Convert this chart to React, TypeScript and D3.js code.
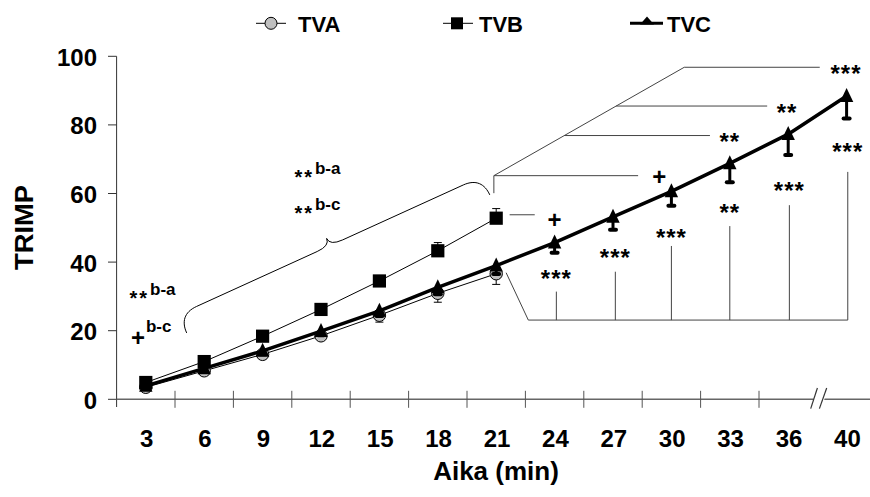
import React from "react";
import * as d3 from "d3";

// ---------- data ----------
const categories = ["3", "6", "9", "12", "15", "18", "21", "24", "27", "30", "33", "36", "40"];
const yTicks = [0, 20, 40, 60, 80, 100];

const tvaValues = [3.5, 8.3, 13.1, 18.5, 24.5, 30.9, 36.6];
const tvaErr = [0.5, 0.8, 1.0, 1.2, 2.0, 2.6, 3.1];
const tvbValues = [4.9, 11.0, 18.4, 26.2, 34.5, 43.3, 52.8];
const tvbErr = [0.5, 0.8, 1.0, 1.2, 1.6, 2.4, 2.8];
const tvcValues = [3.9, 9.0, 14.1, 19.9, 25.8, 32.6, 39.0, 45.7, 53.2, 60.6, 68.8, 77.3, 88.4];
const tvcErr = [0.5, 0.8, 1.0, 1.2, 1.5, 2.0, 2.5, 3.0, 3.8, 4.2, 5.5, 6.1, 6.5];

const legendItems = ["TVA", "TVB", "TVC"];

// significance marks below TVC (B vs C bracket bottom): [category index, label value, line top value, label]
const bottomMarks: [number, number, number, string][] = [
  [7.03, 36.9, 31.4, "***"],
  [8.04, 42.8, 37.2, "***"],
  [9.0, 48.7, 44.7, "***"],
  [10.0, 56.0, 50.5, "**"],
  [11.02, 62.6, 56.6, "***"],
  [12.02, 73.9, 66.3, "***"],
];
// upper bracket branches: [branch value, branch end index, label index, label value, label]
const upperBranches: [number, number, number, number, string][] = [
  [96.8, 11.54, 11.99, 96.7, "***"],
  [85.5, 10.64, 10.98, 85.1, "**"],
  [76.9, 9.66, 10.0, 76.8, "**"],
];

const W = 870;
const H = 497;
const FONT = "'Liberation Sans', Arial, Helvetica, sans-serif";

export default function App() {
  React.useEffect(() => {
    document.body.style.margin = "0";
  }, []);

  const xBand = d3.scaleBand<string>().domain(categories).range([116.6, 116.6 + 13 * 58.4]).padding(0);
  const step = xBand.step();
  const x0 = xBand.range()[0];
  const X = (i: number) => x0 + (i + 0.5) * step;
  const xc = (c: string) => (xBand(c) as number) + step / 2;
  const y = d3.scaleLinear().domain([0, 100]).range([399.3, 56.3]);

  const lineGen = d3
    .line<number>()
    .x((_, i) => xc(categories[i]))
    .y((v) => y(v));

  const triPath = (cx: number, cy: number, w = 13.4, h = 14) =>
    `M${cx},${cy - h * 0.58}L${cx + w / 2},${cy + h * 0.42}L${cx - w / 2},${cy + h * 0.42}Z`;

  // brace
  const bs: [number, number] = [X(0.7), y(19.35)];
  const be: [number, number] = [X(5.89), y(59.6)];
  const dx = be[0] - bs[0];
  const dy = be[1] - bs[1];
  const L = Math.hypot(dx, dy);
  const du = [dx / L, dy / L];
  const nv = [du[1], -du[0]];
  const T = (u: number, w: number) => `${bs[0] + u * du[0] + w * nv[0]},${bs[1] + u * du[1] + w * nv[1]}`;
  const hb = 28;
  const arm = 20;
  const bracePath =
    `M${T(0, 0)} C${T(0, 12)} ${T(6, arm)} ${T(20, arm)} L${T(L / 2 - 14, arm)} ` +
    `Q${T(L / 2, arm)} ${T(L / 2, hb)} Q${T(L / 2, arm)} ${T(L / 2 + 14, arm)} ` +
    `L${T(L - 20, arm)} C${T(L - 6, arm)} ${T(L, 12)} ${T(L, 0)}`;

  // upper bracket diagonal
  const dStart = { i: 5.96, v: 65.2 };
  const dEnd = { i: 9.22, v: 96.8 };
  const diagX = (v: number) => {
    const t = (y(v) - y(dStart.v)) / (y(dEnd.v) - y(dStart.v));
    return X(dStart.i) + t * (X(dEnd.i) - X(dStart.i));
  };

  const lineCol = "#444";
  const starText = (cx: number, cyv: number, label: string, key: string) => (
    <text
      key={key}
      x={cx}
      y={y(cyv) + 14}
      textAnchor="middle"
      fontFamily={FONT}
      fontWeight="bold"
      fontSize={24}
      letterSpacing={1}
      fill="#000"
    >
      {label}
    </text>
  );
  const plusText = (cx: number, cy: number, key: string) => (
    <text key={key} x={cx} y={cy + 8.5} textAnchor="middle" fontFamily={FONT} fontWeight="bold" fontSize={24}>
      +
    </text>
  );
  const supLabel = (xs: number, base: number, stars: string, label: string, key: string) => (
    <g key={key}>
      {stars === "**" ? (
        <text x={xs - 1} y={base + 10} textAnchor="end" fontFamily={FONT} fontWeight="bold" fontSize={20} letterSpacing={2}>
          **
        </text>
      ) : null}
      <text x={xs} y={base} fontFamily={FONT} fontWeight="bold" fontSize={17}>
        {label}
      </text>
    </g>
  );

  const yBase = y(0);
  const breakX = x0 + 12 * step;

  return (
    <svg width={W} height={H} style={{ position: "absolute", left: 0, top: 0, background: "#fff" }}>
      <rect x={0} y={0} width={W} height={H} fill="#fff" />

      {/* legend */}
      <g fontFamily={FONT} fontWeight="bold" fontSize={22}>
        <line x1={256} x2={286} y1={23.3} y2={23.3} stroke="#000" strokeWidth={1} />
        <circle cx={271} cy={23.3} r={6} fill="#c0c0c0" stroke="#000" strokeWidth={1} />
        <text x={298} y={31.7}>{legendItems[0]}</text>
        <line x1={443} x2={473} y1={23.3} y2={23.3} stroke="#000" strokeWidth={1} />
        <rect x={451} y={17.3} width={12} height={12} fill="#000" />
        <text x={479} y={31.7}>{legendItems[1]}</text>
        <line x1={630} x2={663} y1={23.3} y2={23.3} stroke="#000" strokeWidth={3} />
        <path d={`M647,16.5L654,24.5L640,24.5Z`} fill="#000" />
        <text x={667} y={31.7}>{legendItems[2]}</text>
      </g>

      {/* axes */}
      <line x1={x0} x2={x0} y1={y(100)} y2={407} stroke="#333" strokeWidth={1} />
      {yTicks.map((t) => (
        <g key={"yt" + t}>
          <line x1={108} x2={x0} y1={y(t)} y2={y(t)} stroke="#333" strokeWidth={1} />
          <text x={97} y={y(t) + 9.5} textAnchor="end" fontFamily={FONT} fontWeight="bold" fontSize={24}>
            {t}
          </text>
        </g>
      ))}
      <line x1={x0} x2={W} y1={yBase} y2={yBase} stroke="#666" strokeWidth={1.5} />
      {d3.range(1, 12).map((k) => (
        <line key={"xt" + k} x1={x0 + k * step} x2={x0 + k * step} y1={yBase - 8.5} y2={yBase + 8.5} stroke="#555" strokeWidth={1} />
      ))}
      {/* axis break */}
      <path
        d={`M${breakX - 6.7},${yBase + 9.3}L${breakX},${yBase - 11.3}L${breakX + 2},${yBase - 11.3}L${breakX - 4.7},${yBase + 9.3}Z`}
        fill="none"
      />
      <polygon
        points={`${breakX - 5},${yBase + 4} ${breakX + 6},${yBase + 4} ${breakX + 8},${yBase - 4} ${breakX - 3},${yBase - 4}`}
        fill="#fff"
      />
      <line x1={breakX - 6.7} y1={yBase + 9.3} x2={breakX} y2={yBase - 11.3} stroke="#333" strokeWidth={1.2} />
      <line x1={breakX + 2} y1={yBase + 9.3} x2={breakX + 9.3} y2={yBase - 11.3} stroke="#333" strokeWidth={1.2} />

      {categories.map((c) => (
        <text key={"xl" + c} x={xc(c) + 0.8} y={446.7} textAnchor="middle" fontFamily={FONT} fontWeight="bold" fontSize={24}>
          {c}
        </text>
      ))}
      <text x={496} y={480} textAnchor="middle" fontFamily={FONT} fontWeight="bold" fontSize={26}>
        Aika (min)
      </text>
      <text
        transform={`translate(33.3,227.5) rotate(-90)`}
        textAnchor="middle"
        fontFamily={FONT}
        fontWeight="bold"
        fontSize={25}
        textLength={85}
        lengthAdjust="spacingAndGlyphs"
      >
        TRIMP
      </text>

      {/* annotation lines */}
      <g stroke={lineCol} strokeWidth={1} fill="none">
        <path d={bracePath} stroke="#000" />
        <line x1={X(dStart.i)} x2={X(dStart.i)} y1={y(60.1)} y2={y(dStart.v)} />
        <line x1={X(dStart.i)} x2={X(8.43)} y1={y(dStart.v)} y2={y(dStart.v)} />
        <line x1={X(dStart.i)} y1={y(dStart.v)} x2={X(dEnd.i)} y2={y(dEnd.v)} />
        {upperBranches.map(([v, endI], k) => (
          <line key={"ub" + k} x1={diagX(v)} x2={X(endI)} y1={y(v)} y2={y(v)} />
        ))}
        <line x1={X(6.23)} x2={X(6.66)} y1={y(53.8)} y2={y(53.8)} />
        <line x1={X(6.17)} y1={y(36.9)} x2={X(6.55)} y2={y(23.1)} />
        <line x1={X(6.55)} x2={X(12.02)} y1={y(23.1)} y2={y(23.1)} />
        {bottomMarks.map(([i, , top], k) => (
          <line key={"bm" + k} x1={X(i)} x2={X(i)} y1={y(23.1)} y2={y(top)} />
        ))}
      </g>

      {/* annotation texts */}
      {upperBranches.map(([, , li, lv, lab], k) => starText(X(li), lv, lab, "us" + k))}
      {bottomMarks.map(([i, lv, , lab], k) => starText(X(i), lv, lab, "bs" + k))}
      {plusText(X(8.79), y(64.9), "p1")}
      {plusText(X(7.0), y(52.5), "p2")}
      {plusText(X(-0.134), y(18.0), "p3")}
      {supLabel(X(0.072), y(30.4), "**", "b-a", "s1")}
      {supLabel(X(0.003), y(19.7), "", "b-c", "s2")}
      {supLabel(X(2.897), y(65.8), "**", "b-a", "s3")}
      {supLabel(X(2.897), y(55.2), "**", "b-c", "s4")}

      {/* TVA */}
      <path d={lineGen(tvaValues) || ""} fill="none" stroke="#000" strokeWidth={1} />
      {tvaValues.map((v, i) => {
        const cx = xc(categories[i]);
        return (
          <g key={"a" + i}>
            <line x1={cx} x2={cx} y1={y(v)} y2={y(v - tvaErr[i])} stroke="#000" strokeWidth={1} />
            <line x1={cx - 4} x2={cx + 4} y1={y(v - tvaErr[i])} y2={y(v - tvaErr[i])} stroke="#000" strokeWidth={1} />
            <circle cx={cx} cy={y(v)} r={6.2} fill="#c0c0c0" stroke="#000" strokeWidth={1} />
          </g>
        );
      })}

      {/* TVB */}
      <path d={lineGen(tvbValues) || ""} fill="none" stroke="#000" strokeWidth={1} />
      {tvbValues.map((v, i) => {
        const cx = xc(categories[i]);
        return (
          <g key={"b" + i}>
            <line x1={cx} x2={cx} y1={y(v)} y2={y(v + tvbErr[i])} stroke="#000" strokeWidth={1} />
            <line x1={cx - 4} x2={cx + 4} y1={y(v + tvbErr[i])} y2={y(v + tvbErr[i])} stroke="#000" strokeWidth={1} />
            <rect x={cx - 6.6} y={y(v) - 6.6} width={13.2} height={13.2} fill="#000" />
          </g>
        );
      })}

      {/* TVC */}
      <path d={lineGen(tvcValues) || ""} fill="none" stroke="#000" strokeWidth={3.5} strokeLinejoin="round" />
      {tvcValues.map((v, i) => {
        const cx = xc(categories[i]);
        return (
          <g key={"c" + i}>
            <line x1={cx} x2={cx} y1={y(v)} y2={y(v - tvcErr[i])} stroke="#000" strokeWidth={3} />
            <line
              x1={cx - 3}
              x2={cx + 3}
              y1={y(v - tvcErr[i])}
              y2={y(v - tvcErr[i])}
              stroke="#000"
              strokeWidth={4}
              strokeLinecap="round"
            />
            <path d={triPath(cx, y(v))} fill="#000" />
          </g>
        );
      })}
    </svg>
  );
}
